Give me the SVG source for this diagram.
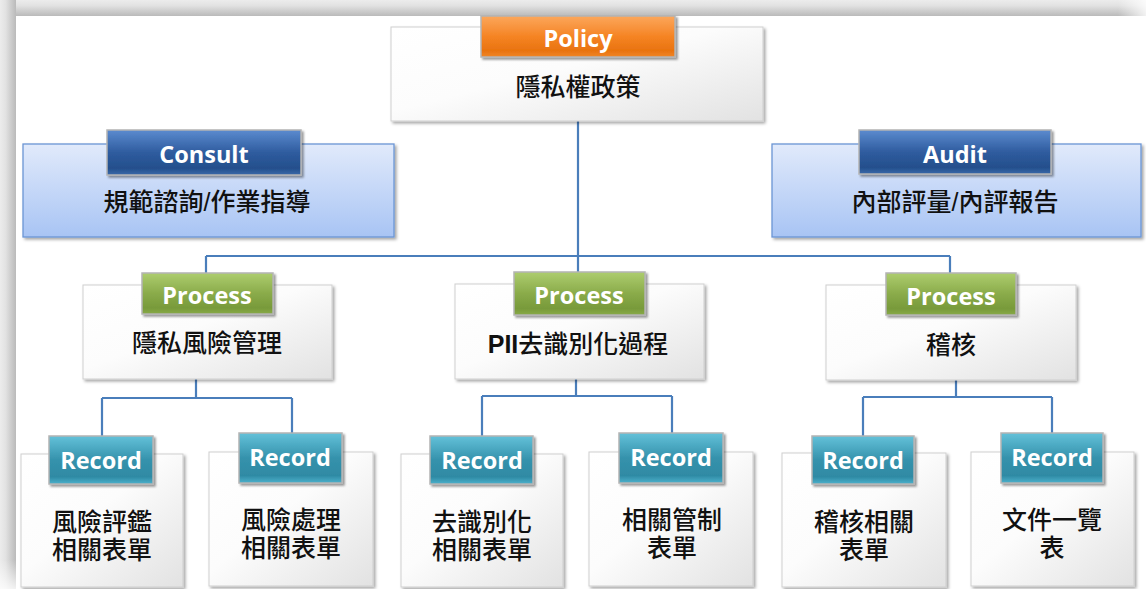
<svg xmlns="http://www.w3.org/2000/svg" width="1146" height="589" viewBox="0 0 1146 589">
<defs>
  <linearGradient id="gTop" x1="0" y1="0" x2="0" y2="1">
    <stop offset="0" stop-color="#ececec"/><stop offset="0.35" stop-color="#e2e2e2"/><stop offset="0.65" stop-color="#cfcfcf"/><stop offset="1" stop-color="#bababa"/>
  </linearGradient>
  <linearGradient id="gLeft" x1="0" y1="0" x2="1" y2="0">
    <stop offset="0" stop-color="#ececec"/><stop offset="0.35" stop-color="#e2e2e2"/><stop offset="0.65" stop-color="#cfcfcf"/><stop offset="1" stop-color="#bababa"/>
  </linearGradient>
  <linearGradient id="gFadeB" x1="0" y1="0" x2="0" y2="1">
    <stop offset="0" stop-color="#fff" stop-opacity="0"/><stop offset="1" stop-color="#fff" stop-opacity="0.8"/>
  </linearGradient>
  <linearGradient id="gFadeR" x1="0" y1="0" x2="1" y2="0">
    <stop offset="0" stop-color="#fff" stop-opacity="0"/><stop offset="1" stop-color="#fff" stop-opacity="0.8"/>
  </linearGradient>
  <linearGradient id="gWhite" x1="0" y1="0" x2="1" y2="1">
    <stop offset="0" stop-color="#ffffff"/><stop offset="0.45" stop-color="#fcfcfc"/><stop offset="1" stop-color="#e2e2e2"/>
  </linearGradient>
  <linearGradient id="gBlue" x1="0" y1="0" x2="0" y2="1">
    <stop offset="0" stop-color="#e1eafb"/><stop offset="1" stop-color="#a8c4f4"/>
  </linearGradient>
  <linearGradient id="gOrange" x1="0" y1="0" x2="0" y2="1">
    <stop offset="0" stop-color="#fca75c"/><stop offset="0.5" stop-color="#f58424"/><stop offset="0.85" stop-color="#e9730f"/><stop offset="1" stop-color="#f0862a"/>
  </linearGradient>
  <linearGradient id="gNavy" x1="0" y1="0" x2="0" y2="1">
    <stop offset="0" stop-color="#5b8bcf"/><stop offset="0.5" stop-color="#2f5c9f"/><stop offset="0.85" stop-color="#244f8c"/><stop offset="1" stop-color="#3a69a9"/>
  </linearGradient>
  <linearGradient id="gGreen" x1="0" y1="0" x2="0" y2="1">
    <stop offset="0" stop-color="#adcd6e"/><stop offset="0.5" stop-color="#8aab4a"/><stop offset="0.85" stop-color="#789a3a"/><stop offset="1" stop-color="#88aa48"/>
  </linearGradient>
  <linearGradient id="gTeal" x1="0" y1="0" x2="0" y2="1">
    <stop offset="0" stop-color="#63c1d9"/><stop offset="0.5" stop-color="#3592ac"/><stop offset="0.85" stop-color="#2f8aa4"/><stop offset="1" stop-color="#4cb1cc"/>
  </linearGradient>
  <filter id="sh" x="-5%" y="-5%" width="115%" height="120%">
    <feDropShadow dx="2" dy="2" stdDeviation="1.5" flood-color="#000" flood-opacity="0.35"/>
  </filter>
  <filter id="shT" x="-5%" y="-10%" width="115%" height="130%">
    <feDropShadow dx="2" dy="2" stdDeviation="1" flood-color="#000" flood-opacity="0.4"/>
  </filter>
  <style>
    .box{fill:url(#gWhite);stroke:#cfcfcf;stroke-width:1;filter:url(#sh)}
    .bbox{fill:url(#gBlue);stroke:#6a95d4;stroke-width:1.3;filter:url(#sh)}
    .tab{stroke:#b4b4b4;stroke-width:1.5;filter:url(#shT)}
    .t-or{fill:url(#gOrange)}
    .t-nv{fill:url(#gNavy)}
    .t-gr{fill:url(#gGreen)}
    .t-tl{fill:url(#gTeal)}
    .tt{font-family:"Open Sans","Liberation Sans",sans-serif;font-weight:700;font-size:23.5px;fill:#ffffff;text-anchor:middle}
    .cj{font-family:"Liberation Sans","Noto Sans CJK TC","Noto Sans CJK SC",sans-serif;font-size:25px;font-weight:500;fill:#111111;text-anchor:middle}
    .conn{stroke:#4a7ebb;stroke-width:2.2;fill:none}
  </style>
</defs>
<rect x="0" y="0" width="1146" height="589" fill="#ffffff"/>
<g id="frame">
  <rect x="0" y="0" width="1146" height="16" fill="url(#gTop)"/>
  <rect x="0" y="0" width="16" height="589" fill="url(#gLeft)"/>
  <rect x="0" y="560" width="16" height="29" fill="url(#gFadeB)"/>
  <rect x="1118" y="0" width="28" height="16" fill="url(#gFadeR)"/>
</g>
<g id="connectors">
  <path class="conn" d="M578,121 V256 M206,256 H950 M206,256 V273 M578,256 V272 M950,256 V273"/>
  <path class="conn" d="M196,379 V398 M102,398 H292 M102,398 V436 M292,398 V433"/>
  <path class="conn" d="M576,379 V396 M482,396 H672 M482,396 V436 M672,396 V433"/>
  <path class="conn" d="M956,380 V397 M863,397 H1052 M863,397 V436 M1052,397 V433"/>
</g>
<g id="policy">
  <rect class="box" x="391" y="27" width="372" height="94"/>
  <rect class="tab t-or" x="481" y="16" width="194" height="41"/>
  <text class="tt" x="578" y="47">Policy</text>
  <text class="cj" x="578" y="96">隱私權政策</text>
</g>
<g id="consult">
  <rect class="bbox" x="23" y="144" width="371" height="93"/>
  <rect class="tab t-nv" x="107" y="130" width="194" height="45"/>
  <text class="tt" x="204" y="163">Consult</text>
  <text class="cj" x="207" y="211">規範諮詢/作業指導</text>
</g>
<g id="audit">
  <rect class="bbox" x="772" y="144" width="369" height="93"/>
  <rect class="tab t-nv" x="859" y="130" width="192" height="44"/>
  <text class="tt" x="955" y="163">Audit</text>
  <text class="cj" x="955" y="211">內部評量/內評報告</text>
</g>
<g id="process-1">
  <rect class="box" x="83" y="285" width="249" height="94"/>
  <rect class="tab t-gr" x="142" y="273" width="131" height="41"/>
  <text class="tt" x="207" y="304">Process</text>
  <text class="cj" x="207" y="352">隱私風險管理</text>
</g>
<g id="process-2">
  <rect class="box" x="455" y="284" width="249" height="95"/>
  <rect class="tab t-gr" x="514" y="272" width="131" height="43"/>
  <text class="tt" x="579" y="304">Process</text>
  <text class="cj" x="578" y="353"><tspan font-weight="700">PII</tspan>去識別化過程</text>
</g>
<g id="process-3">
  <rect class="box" x="826" y="285" width="250" height="95"/>
  <rect class="tab t-gr" x="886" y="273" width="130" height="42"/>
  <text class="tt" x="951" y="305">Process</text>
  <text class="cj" x="951" y="354">稽核</text>
</g>
<g id="record-1">
  <rect class="box" x="21" y="454" width="162" height="133"/>
  <rect class="tab t-tl" x="49" y="436" width="104" height="48"/>
  <text class="tt" x="101" y="469">Record</text>
  <text class="cj"><tspan x="102" y="531">風險評鑑</tspan><tspan x="102" y="559">相關表單</tspan></text>
</g>
<g id="record-2">
  <rect class="box" x="209" y="452" width="164" height="134"/>
  <rect class="tab t-tl" x="239" y="433" width="103" height="50"/>
  <text class="tt" x="290" y="466">Record</text>
  <text class="cj"><tspan x="291" y="529">風險處理</tspan><tspan x="291" y="557">相關表單</tspan></text>
</g>
<g id="record-3">
  <rect class="box" x="401" y="454" width="162" height="133"/>
  <rect class="tab t-tl" x="430" y="436" width="103" height="48"/>
  <text class="tt" x="482" y="469">Record</text>
  <text class="cj"><tspan x="482" y="531">去識別化</tspan><tspan x="482" y="559">相關表單</tspan></text>
</g>
<g id="record-4">
  <rect class="box" x="589" y="452" width="164" height="134"/>
  <rect class="tab t-tl" x="619" y="433" width="104" height="50"/>
  <text class="tt" x="671" y="466">Record</text>
  <text class="cj"><tspan x="672" y="529">相關管制</tspan><tspan x="672" y="557">表單</tspan></text>
</g>
<g id="record-5">
  <rect class="box" x="782" y="453" width="164" height="134"/>
  <rect class="tab t-tl" x="812" y="436" width="102" height="48"/>
  <text class="tt" x="863" y="469">Record</text>
  <text class="cj"><tspan x="864" y="531">稽核相關</tspan><tspan x="864" y="559">表單</tspan></text>
</g>
<g id="record-6">
  <rect class="box" x="971" y="452" width="163" height="134"/>
  <rect class="tab t-tl" x="1001" y="433" width="102" height="50"/>
  <text class="tt" x="1052" y="466">Record</text>
  <text class="cj"><tspan x="1052" y="529">文件一覽</tspan><tspan x="1052" y="557">表</tspan></text>
</g>
</svg>
